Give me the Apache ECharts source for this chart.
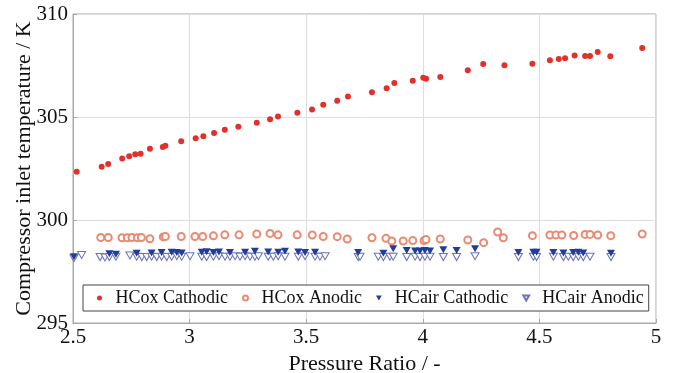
<!DOCTYPE html>
<html>
<head>
<meta charset="utf-8">
<script src="https://cdn.jsdelivr.net/npm/echarts@6/dist/echarts.min.js"></script>
<style>
  html, body { margin: 0; padding: 0; background: #fff; }
  #chart { width: 677px; height: 373px; }
</style>
</head>
<body>
<div id="chart"></div>
<script>
// Compressor inlet temperature vs. pressure ratio for the four operating cases
const xTicks = [2.5, 3, 3.5, 4, 4.5, 5];
const yTicks = [295, 300, 305, 310];

const hcoxCathodicP = [2.516, 2.623, 2.651, 2.711, 2.741, 2.767, 2.790, 2.830, 2.885, 2.896, 2.964, 3.026, 3.059, 3.105, 3.151, 3.209, 3.288, 3.345, 3.379, 3.462, 3.525, 3.573, 3.633, 3.679, 3.782, 3.845, 3.878, 3.957, 4.002, 4.014, 4.075, 4.193, 4.259, 4.350, 4.470, 4.545, 4.583, 4.610, 4.651, 4.696, 4.717, 4.750, 4.804, 4.941];
const hcoxCathodicT = [302.34, 302.59, 302.72, 302.98, 303.09, 303.19, 303.22, 303.46, 303.54, 303.61, 303.82, 303.97, 304.06, 304.22, 304.38, 304.53, 304.72, 304.89, 305.03, 305.21, 305.37, 305.60, 305.79, 306.00, 306.20, 306.39, 306.65, 306.76, 306.91, 306.86, 306.94, 307.27, 307.57, 307.51, 307.59, 307.75, 307.82, 307.85, 307.99, 307.96, 307.96, 308.16, 307.95, 308.35];

const hcoxAnodicP = [2.619, 2.651, 2.710, 2.733, 2.753, 2.776, 2.793, 2.830, 2.887, 2.896, 2.964, 3.023, 3.056, 3.102, 3.151, 3.212, 3.288, 3.345, 3.379, 3.461, 3.526, 3.573, 3.633, 3.676, 3.782, 3.842, 3.867, 3.916, 3.957, 4.005, 4.014, 4.075, 4.193, 4.261, 4.321, 4.345, 4.470, 4.545, 4.571, 4.596, 4.647, 4.696, 4.717, 4.750, 4.806, 4.941];
const hcoxAnodicT = [299.15, 299.15, 299.14, 299.14, 299.15, 299.14, 299.15, 299.09, 299.18, 299.20, 299.20, 299.20, 299.20, 299.23, 299.28, 299.28, 299.32, 299.35, 299.28, 299.28, 299.27, 299.20, 299.19, 299.08, 299.14, 299.11, 298.98, 298.98, 299.00, 299.00, 299.05, 299.08, 299.03, 298.90, 299.42, 299.14, 299.24, 299.27, 299.27, 299.27, 299.25, 299.30, 299.30, 299.27, 299.24, 299.32];

const hcairCathodicP = [2.504, 2.656, 2.684, 2.773, 2.837, 2.880, 2.923, 2.945, 2.966, 3.052, 3.073, 3.102, 3.126, 3.173, 3.238, 3.280, 3.337, 3.380, 3.409, 3.466, 3.495, 3.538, 3.723, 3.831, 3.873, 3.931, 3.967, 3.988, 4.009, 4.031, 4.088, 4.145, 4.224, 4.410, 4.474, 4.488, 4.560, 4.603, 4.645, 4.667, 4.688, 4.807];
const hcairCathodicT = [298.22, 298.36, 298.34, 298.38, 298.40, 298.42, 298.44, 298.42, 298.40, 298.44, 298.46, 298.42, 298.45, 298.42, 298.44, 298.48, 298.45, 298.44, 298.48, 298.45, 298.42, 298.44, 298.42, 298.38, 298.60, 298.52, 298.50, 298.50, 298.52, 298.50, 298.55, 298.52, 298.60, 298.42, 298.44, 298.44, 298.42, 298.40, 298.42, 298.44, 298.40, 298.38];

const hcairAnodicP = [2.504, 2.537, 2.616, 2.637, 2.656, 2.684, 2.744, 2.773, 2.795, 2.816, 2.837, 2.859, 2.880, 2.902, 2.923, 2.945, 2.966, 3.002, 3.052, 3.073, 3.102, 3.126, 3.152, 3.173, 3.195, 3.216, 3.238, 3.259, 3.280, 3.295, 3.337, 3.359, 3.380, 3.409, 3.466, 3.495, 3.538, 3.559, 3.581, 3.723, 3.731, 3.809, 3.831, 3.859, 3.873, 3.931, 3.967, 3.988, 4.009, 4.031, 4.088, 4.145, 4.224, 4.410, 4.474, 4.488, 4.560, 4.603, 4.624, 4.645, 4.667, 4.688, 4.717, 4.807];
const hcairAnodicT = [298.15, 298.30, 298.20, 298.18, 298.20, 298.22, 298.28, 298.22, 298.20, 298.20, 298.22, 298.20, 298.22, 298.20, 298.22, 298.24, 298.22, 298.24, 298.22, 298.20, 298.22, 298.24, 298.22, 298.22, 298.24, 298.22, 298.24, 298.22, 298.22, 298.24, 298.22, 298.22, 298.24, 298.22, 298.22, 298.24, 298.22, 298.22, 298.24, 298.20, 298.22, 298.22, 298.20, 298.22, 298.22, 298.20, 298.22, 298.20, 298.22, 298.22, 298.20, 298.20, 298.24, 298.20, 298.22, 298.20, 298.22, 298.20, 298.22, 298.20, 298.22, 298.20, 298.22, 298.20];

const pairs = (xs, ys) => xs.map((x, i) => [x, ys[i]]);

const downTri = 'path://M0,0 L10,0 L5,8.66 Z';
const serif = '"Liberation Serif", "DejaVu Serif", serif';

const chart = echarts.init(document.getElementById('chart'));
chart.setOption({
  animation: false,
  backgroundColor: '#fff',
  grid: {
    left: 73, right: 21, top: 14, bottom: 50,
    outerBoundsMode: 'none', containLabel: false,
    show: true, borderColor: '#a9a9a9', borderWidth: 1
  },
  xAxis: {
    type: 'value',
    min: xTicks[0], max: xTicks[xTicks.length - 1], interval: 0.5,
    name: 'Pressure Ratio / -',
    nameLocation: 'middle', nameGap: 23,
    nameTextStyle: { fontFamily: serif, fontSize: 22, color: '#111' },
    axisLine: { lineStyle: { color: '#a9a9a9' } },
    axisTick: { inside: true, length: 4, lineStyle: { color: '#a9a9a9' } },
    axisLabel: {
      fontFamily: serif, fontSize: 21, color: '#111', margin: 4,
      formatter: v => (xTicks.includes(v) ? String(v) : '')
    },
    splitLine: { lineStyle: { color: '#dedede' } }
  },
  yAxis: {
    type: 'value',
    min: yTicks[0], max: yTicks[yTicks.length - 1], interval: 5,
    name: 'Compressor inlet temperature / K',
    nameLocation: 'middle', nameGap: 38, nameMoveOverlap: false,
    nameTextStyle: { fontFamily: serif, fontSize: 22, color: '#111' },
    axisLine: { show: true, lineStyle: { color: '#a9a9a9' } },
    axisTick: { show: true, inside: true, length: 4, lineStyle: { color: '#a9a9a9' } },
    axisLabel: { fontFamily: serif, fontSize: 21, color: '#111', margin: 5 },
    splitLine: { lineStyle: { color: '#dedede' } }
  },
  legend: {
    left: 83, top: 285,
    padding: [4, 5, 4, 14],
    itemGap: 14,
    itemWidth: 22, itemHeight: 5,
    borderColor: '#444', borderWidth: 1,
    backgroundColor: '#fff',
    textStyle: { fontFamily: serif, fontSize: 18, color: '#111' },
    data: ['HCox Cathodic', 'HCox Anodic', 'HCair Cathodic', 'HCair Anodic']
  },
  series: [
    {
      name: 'HCox Cathodic', type: 'scatter', clip: false,
      symbol: 'circle', symbolSize: 6,
      itemStyle: { color: '#e2302b', opacity: 1 },
      data: pairs(hcoxCathodicP, hcoxCathodicT)
    },
    {
      name: 'HCox Anodic', type: 'scatter', clip: false,
      symbol: 'emptyCircle', symbolSize: 7,
      itemStyle: { color: '#ea8a72', borderColor: '#ea8a72', borderWidth: 1, opacity: 1 },
      data: pairs(hcoxAnodicP, hcoxAnodicT)
    },
    {
      name: 'HCair Anodic', type: 'scatter', clip: false,
      symbol: downTri, symbolSize: [8, 7],
      itemStyle: { color: '#fff', borderColor: '#6d73bd', borderWidth: 1, opacity: 1 },
      data: pairs(hcairAnodicP, hcairAnodicT)
    },
    {
      name: 'HCair Cathodic', type: 'scatter', clip: false,
      symbol: downTri, symbolSize: [8, 7],
      itemStyle: { color: '#223c9a', opacity: 1 },
      data: pairs(hcairCathodicP, hcairCathodicT)
    }
  ]
});
</script>
</body>
</html>
